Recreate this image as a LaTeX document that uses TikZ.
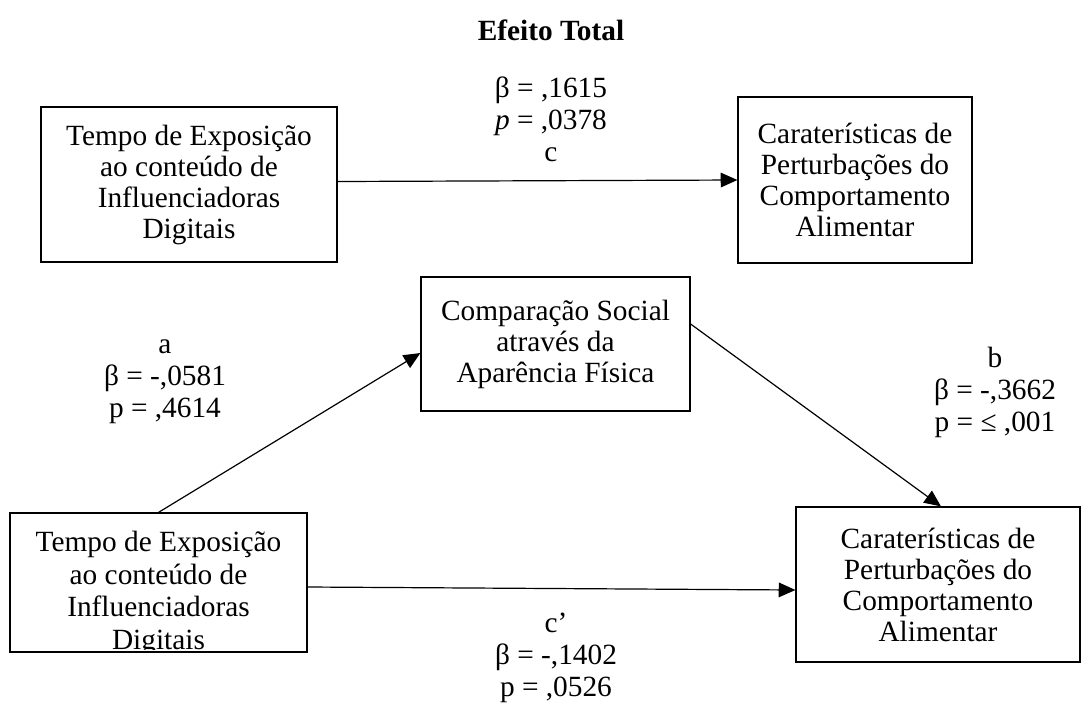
\documentclass[tikz,border=0pt]{standalone}
\usepackage{fontspec}
\setmainfont{Liberation Serif}
\usetikzlibrary{arrows.meta,calc}
\begin{document}
\begin{tikzpicture}[x=0.75pt,y=-0.75pt,
  font=\fontsize{22}{23.25}\selectfont,
  box/.style={draw,line width=0.9pt,inner sep=0pt,align=center},
  txt/.style={align=center,inner sep=0pt},
  lbl/.style={align=center,inner sep=0pt,font=\fontsize{22}{24}\selectfont},
  arr/.style={-{Triangle[length=12.5pt,width=11pt]},line width=0.9pt}]
\useasboundingbox (0,0) rectangle (1090,708);
\node[inner sep=0pt,font=\fontsize{22}{24}\selectfont\bfseries] (title) at (551,30) {Efeito Total};

\node[box,minimum width=222pt,minimum height=116.25pt] (x1) at (189,184.5)
  {Tempo de Exposição\\ao conteúdo de\\Influenciadoras\\Digitais};
\node[box,minimum width=175.5pt,minimum height=124.5pt] (y1) at (855,180)
  {Caraterísticas de\\Perturbações do\\Comportamento\\Alimentar};
\node[box,minimum width=201.75pt,minimum height=100.5pt] (med) at (555.5,344)
  {Comparação Social\\através da\\Aparência Física};
\node[box,minimum width=222.75pt,minimum height=104.25pt] (x2) at (158.5,582.5) {};
\begin{scope}
  \clip ($(x2.north west)$) rectangle ($(x2.south east)+(0,-3)$);
  \node[txt,font=\fontsize{22}{24.5}\selectfont] (x2t) at (158.5,593.5)
    {Tempo de Exposição\\ao conteúdo de\\Influenciadoras\\Digitais};
\end{scope}
\node[box,minimum width=213pt,minimum height=116.25pt] (y2) at (938,584.5)
  {Caraterísticas de\\Perturbações do\\Comportamento\\Alimentar};

\draw[arr] ($(x1.east)+(0,-3)$) -- (y1.west);
\draw[arr] (x2.north) -- ($(med.west)+(0,9)$);
\draw[arr] ($(med.east)+(0,-20)$) -- ($(y2.north)+(3,0)$);
\draw[arr] ($(x2.east)+(0,4.5)$) -- ($(y2.west)+(0,5.5)$);

\node[lbl] (lc) at (551,119) {β = ,1615\\\textit{p} = ,0378\\c};
\node[lbl] (la) at (165,381.5) {a\\β = -,0581\\p = ,4614};
\node[lbl] (lb) at (995,392) {b\\β = -,3662\\p = ≤ ,001};
\node[lbl] (lcp) at (556,657.5) {c’\\β = -,1402\\p = ,0526};
\end{tikzpicture}
\end{document}
